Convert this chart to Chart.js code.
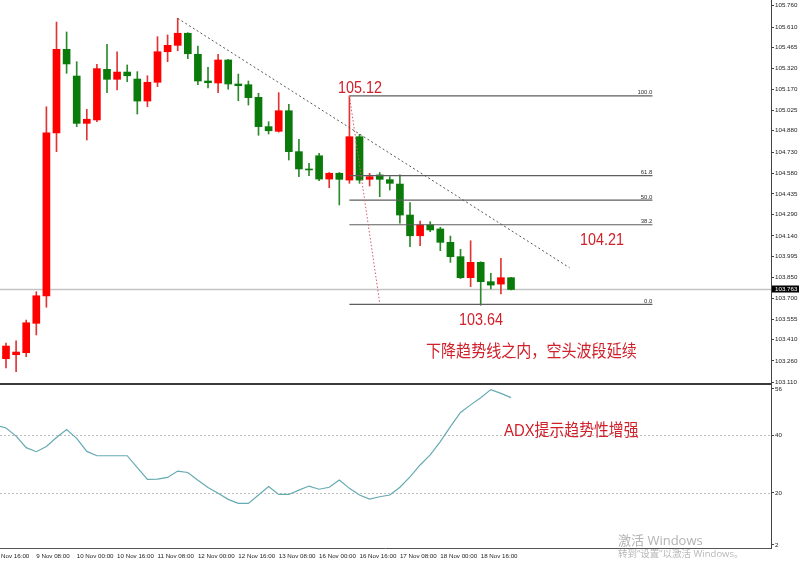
<!DOCTYPE html>
<html><head><meta charset="utf-8">
<script src="https://cdn.jsdelivr.net/npm/chart.js@4.4.1/dist/chart.umd.min.js"></script>
<style>html,body{margin:0;padding:0;background:#fff;overflow:hidden}canvas{display:block}</style>
</head><body>
<canvas id="c" width="800" height="563"></canvas>
<script>
// ---------- data (H4 bars) ----------
const categories = ["8 Nov 16:00","8 Nov 20:00","9 Nov 00:00","9 Nov 04:00","9 Nov 08:00","9 Nov 12:00","9 Nov 16:00","9 Nov 20:00",
"10 Nov 00:00","10 Nov 04:00","10 Nov 08:00","10 Nov 12:00","10 Nov 16:00","10 Nov 20:00",
"11 Nov 00:00","11 Nov 04:00","11 Nov 08:00","11 Nov 12:00","11 Nov 16:00","11 Nov 20:00",
"12 Nov 00:00","12 Nov 04:00","12 Nov 08:00","12 Nov 12:00","12 Nov 16:00","12 Nov 20:00",
"13 Nov 00:00","13 Nov 04:00","13 Nov 08:00","13 Nov 12:00","13 Nov 16:00","13 Nov 20:00",
"16 Nov 00:00","16 Nov 04:00","16 Nov 08:00","16 Nov 12:00","16 Nov 16:00","16 Nov 20:00",
"17 Nov 00:00","17 Nov 04:00","17 Nov 08:00","17 Nov 12:00","17 Nov 16:00","17 Nov 20:00",
"18 Nov 00:00","18 Nov 04:00","18 Nov 08:00","18 Nov 12:00","18 Nov 16:00","18 Nov 20:00",
"19 Nov 00:00","19 Nov 04:00"];

const open = [null,103.276,103.304,103.318,103.525,103.717,104.864,105.453,105.265,104.932,104.956,105.312,105.242,105.293,105.244,105.089,105.221,105.436,105.481,105.566,105.418,105.230,105.216,105.378,105.209,105.204,105.115,104.909,104.876,105.021,104.733,104.611,104.704,104.540,104.581,104.533,104.838,104.538,104.569,104.536,104.505,104.287,104.141,104.217,104.189,104.095,103.994,103.846,103.954,103.818,103.801,103.846];
const high = [null,103.386,103.402,103.548,103.747,105.049,105.645,105.575,105.366,105.031,105.348,105.488,105.436,105.343,105.296,105.267,105.542,105.554,105.671,105.570,105.476,105.327,105.418,105.382,105.279,105.230,105.144,104.944,105.148,105.066,104.820,104.651,104.721,104.586,104.586,105.125,104.855,104.581,104.586,104.557,104.569,104.374,104.245,104.240,104.201,104.139,104.046,104.106,103.958,103.877,103.982,103.848];
const low = [null,103.212,103.184,103.290,103.443,103.638,104.733,105.284,104.909,104.815,104.944,105.148,105.167,105.225,104.998,105.049,105.190,105.366,105.443,105.387,105.204,105.181,105.148,105.172,105.091,105.061,104.848,104.857,104.870,104.674,104.557,104.564,104.529,104.479,104.358,104.510,104.510,104.491,104.416,104.463,104.229,104.064,104.071,104.170,104.036,103.954,103.840,103.783,103.652,103.766,103.731,103.760];
const close = [null,103.365,103.323,103.529,103.719,104.866,105.453,105.350,104.932,104.961,105.317,105.242,105.293,105.267,105.089,105.221,105.436,105.481,105.566,105.422,105.230,105.218,105.378,105.209,105.197,105.113,104.909,104.880,105.021,104.733,104.611,104.604,104.540,104.581,104.538,104.838,104.533,104.557,104.538,104.510,104.287,104.141,104.217,104.182,104.095,103.994,103.846,103.954,103.818,103.794,103.846,103.763];
const adx = [43.5,42.5,39.7,35.7,34.3,36.1,39.2,42.0,38.9,34.4,32.9,32.9,32.9,32.9,28.8,24.7,24.8,25.4,27.6,27.1,24.4,21.9,19.9,17.8,16.4,16.4,19.3,22.2,19.5,19.5,21.0,22.4,21.3,22.0,24.5,21.6,19.3,17.9,18.7,19.3,22.0,25.6,29.7,33.2,37.8,43.0,47.9,50.5,53.0,55.8,54.5,53.0];

const priceTicks = [105.760,105.610,105.465,105.320,105.170,105.025,104.880,104.730,104.580,104.435,104.290,104.140,103.995,103.850,103.700,103.555,103.410,103.260,103.110];
const adxTicks = [56,40,20,2];
const adxGrid = [40,20];

// drawn objects (price / bar-index coordinates)
const trendX = [18, 56.8], trendY = [105.671, 103.916];
const fibX = [35, 65], fibHigh = 105.125, fibLow = 103.658;
const fibLevels = [0, 38.2, 50, 61.8, 100];
const fibDiagX = [35, 38], fibDiagY = [105.125, 103.668];
const currentPrice = close[close.length - 1];

// ---------- derived ----------
const RED = '#ff0000', GREEN = '#0a7a0a';
const idx = categories.map((_, k) => k).filter(k => open[k] != null);
const bodyColors = idx.map(k => close[k] >= open[k] ? RED : GREEN);
const wickColors = idx.map(k => close[k] >= open[k] ? '#e23434' : '#2c8a2c');
const fibPrice = l => fibLow + (fibHigh - fibLow) * l / 100;
const axisTickIdx = categories.map((_, k) => k).filter(k => k % 4 === 0 && k <= 48);

const AXFONT = {family: "'Liberation Sans', Arial, sans-serif", size: 6.2};

function txt(ctx, s, x, y, o) {
  ctx.save();
  ctx.translate(x, y);
  ctx.scale(o.sx || 1, 1);
  ctx.font = (o.weight || 'normal') + ' ' + o.size + 'px ' + o.family;
  ctx.fillStyle = o.color;
  ctx.textAlign = o.align || 'left';
  ctx.textBaseline = o.base || 'alphabetic';
  ctx.fillText(s, 0, 0);
  ctx.restore();
}

const notes = [
  {s: '105.12', x: 36.05, v: 105.148, ax: 'y', align: 'center', size: 16.5, sx: 0.87, fam: "'Liberation Sans', Arial"},
  {s: '104.21', x: 60.0, v: 104.076, ax: 'y', align: 'center', size: 16.5, sx: 0.87, fam: "'Liberation Sans', Arial"},
  {s: '103.64', x: 48.03, v: 103.513, ax: 'y', align: 'center', size: 16.5, sx: 0.87, fam: "'Liberation Sans', Arial"},
  {s: '下降趋势线之内，空头波段延续', x: 42.58, v: 103.287, ax: 'y', align: 'left', size: 17.2, sx: 0.876, fam: "'Noto Sans CJK SC'"},
  {s: 'ADX提示趋势性增强', x: 50.31, v: 39.7, ax: 'y2', align: 'left', size: 16.5, sx: 0.9, fam: "'Liberation Sans', 'Noto Sans CJK SC'"}
];

const overlay = {
  id: 'overlay',
  beforeDatasetsDraw(chart) {
    const {ctx, chartArea: a, scales: {y2}} = chart;
    ctx.save();
    ctx.strokeStyle = '#bdbdbd'; ctx.lineWidth = 1; ctx.setLineDash([2, 2]);
    adxGrid.forEach(v => {
      const yy = Math.round(y2.getPixelForValue(v)) + 0.5;
      ctx.beginPath(); ctx.moveTo(a.left, yy); ctx.lineTo(a.right, yy); ctx.stroke();
    });
    ctx.restore();
  },
  afterDraw(chart) {
    const {ctx, chartArea: a, scales: {x, y, y2}} = chart;
    ctx.save();
    // panel separator and bottom border
    ctx.strokeStyle = '#3a3a3a'; ctx.lineWidth = 2;
    ctx.beginPath(); ctx.moveTo(0, y.bottom); ctx.lineTo(a.right, y.bottom); ctx.stroke();
    ctx.strokeStyle = '#555'; ctx.lineWidth = 1;
    ctx.beginPath(); ctx.moveTo(0, a.bottom + 0.5); ctx.lineTo(a.right, a.bottom + 0.5); ctx.stroke();
    ctx.restore();
    // fib level labels
    fibLevels.forEach(l => {
      txt(ctx, l.toFixed(1), x.getPixelForValue(fibX[1]), y.getPixelForValue(fibPrice(l)) - 1.5,
        {size: 6, family: AXFONT.family, color: '#333', align: 'right'});
    });
    // annotations
    notes.forEach(n => {
      const sc = n.ax === 'y' ? y : y2;
      txt(ctx, n.s, x.getPixelForValue(n.x), sc.getPixelForValue(n.v),
        {size: n.size, family: n.fam, color: '#d0202a', align: n.align, sx: n.sx});
    });
    // current price tag
    const cy = y.getPixelForValue(currentPrice);
    ctx.save();
    ctx.fillStyle = '#000';
    ctx.fillRect(a.right + 1, Math.round(cy) - 3.5, 27, 7);
    ctx.restore();
    txt(ctx, currentPrice.toFixed(3), a.right + 4, cy, {size: 6.2, family: AXFONT.family, color: '#fff', base: 'middle'});
    // watermark
    txt(ctx, '激活 Windows', 618, 544.5, {size: 13, family: "'Open Sans', 'Noto Sans CJK SC'", color: '#b3b3b3'});
    txt(ctx, '转到“设置”以激活 Windows。', 618, 557, {size: 9.5, family: "'Open Sans', 'Noto Sans CJK SC'", color: '#b8b8b8'});
  }
};

const datasets = [
  {type: 'line', data: [{x: 0, y: currentPrice}, {x: 77, y: currentPrice}], borderColor: '#c4c4c4', borderWidth: 1.5,
   pointRadius: 0, yAxisID: 'y', order: 10},
  {type: 'bar', data: idx.map(k => ({x: k, y: [low[k], high[k]]})), backgroundColor: wickColors, barThickness: 1,
   grouped: false, yAxisID: 'y', order: 7},
  {type: 'bar', data: idx.map(k => ({x: k, y: [open[k], close[k]]})), backgroundColor: bodyColors, barThickness: 7,
   minBarLength: 1, grouped: false, yAxisID: 'y', order: 6},
  ...fibLevels.map(l => ({type: 'line', data: fibX.map(xx => ({x: xx, y: fibPrice(l)})), borderColor: '#5e5e5e',
   borderWidth: 1.2, pointRadius: 0, yAxisID: 'y', order: 5})),
  {type: 'line', data: fibDiagX.map((xx, i) => ({x: xx, y: fibDiagY[i]})), borderColor: '#d05868', borderDash: [1.5, 2],
   borderWidth: 1, pointRadius: 0, yAxisID: 'y', order: 4},
  {type: 'line', data: trendX.map((xx, i) => ({x: xx, y: trendY[i]})), borderColor: '#555', borderDash: [2, 2.5],
   borderWidth: 1, pointRadius: 0, yAxisID: 'y', order: 3},
  {type: 'line', data: adx.map((v, k) => ({x: k, y: v})), borderColor: '#66aab2', borderWidth: 1.2, pointRadius: 0,
   yAxisID: 'y2', order: 2}
];

new Chart(document.getElementById('c'), {
  type: 'bar',
  data: {datasets},
  plugins: [overlay],
  options: {
    responsive: false, animation: false, devicePixelRatio: 1,
    layout: {padding: 0, autoPadding: false},
    plugins: {legend: {display: false}, tooltip: {enabled: false}},
    events: [],
    scales: {
      x: {
        type: 'linear', position: 'bottom', min: 0.406, max: 76.74, offset: false,
        grid: {display: false, offset: false}, border: {display: false},
        afterBuildTicks: s => { s.ticks = axisTickIdx.map(v => ({value: v})); },
        ticks: {autoSkip: false, maxRotation: 0, minRotation: 0, align: 'start', padding: -3, color: '#222', font: AXFONT,
          callback: v => categories[v]},
        afterFit: s => { s.height = 15; s.paddingLeft = 0; s.paddingRight = 0; }
      },
      y: {
        type: 'linear', position: 'right', stack: 'panes', stackWeight: 384, min: 103.098, max: 105.800,
        afterBuildTicks: s => { s.ticks = priceTicks.map(v => ({value: v})); },
        ticks: {autoSkip: false, padding: 1, color: '#222', font: AXFONT, callback: v => Number(v).toFixed(3)},
        grid: {display: true, drawOnChartArea: false, drawTicks: true, tickLength: 3, color: '#444'},
        border: {display: true, color: '#444', width: 1},
        afterFit: s => { s.width = 29; s.paddingTop = 0; s.paddingBottom = 0; }
      },
      y2: {
        type: 'linear', position: 'right', stack: 'panes', stackWeight: 164, min: 0.96, max: 57.73,
        afterBuildTicks: s => { s.ticks = adxTicks.map(v => ({value: v})); },
        ticks: {autoSkip: false, padding: 1, color: '#222', font: AXFONT, callback: v => String(v)},
        grid: {display: true, drawOnChartArea: false, drawTicks: true, tickLength: 3, color: '#444'},
        border: {display: true, color: '#444', width: 1},
        afterFit: s => { s.width = 29; s.paddingTop = 0; s.paddingBottom = 0; }
      }
    }
  }
});
</script>
</body></html>
